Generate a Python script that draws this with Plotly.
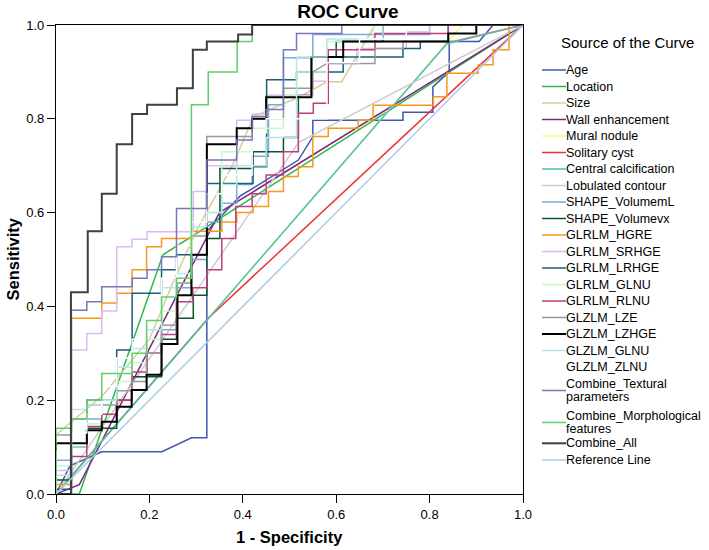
import plotly.graph_objects as go

# ---------------- data ----------------
CURVE_NAMES = ["Age", "Location", "Size", "Wall enhancement", "Mural nodule", "Solitary cyst",
               "Central calcification", "Lobulated contour", "SHAPE_VolumemL", "SHAPE_Volumevx",
               "GLRLM_HGRE", "GLRLM_SRHGE", "GLRLM_LRHGE", "GLRLM_GLNU", "GLRLM_RLNU",
               "GLZLM_LZE", "GLZLM_LZHGE", "GLZLM_GLNU", "GLZLM_ZLNU",
               "Combine_Textural parameters", "Combine_Morphological features", "Combine_All",
               "Reference Line"]

AGE_FPR = [0, 0.03, 0.098, 0.227, 0.29, 0.323, 0.323, 0.394, 0.519, 0.55, 0.55, 0.743, 0.743, 0.807, 0.807, 0.842, 0.842, 0.906, 0.936, 1]
AGE_TPR = [0, 0.06, 0.09, 0.09, 0.12, 0.12, 0.56, 0.635, 0.712, 0.762, 0.797, 0.797, 0.814, 0.814, 0.868, 0.9, 0.965, 0.965, 1, 1]

LOCATION_FPR = [0, 0.05, 0.229, 1]
LOCATION_TPR = [0, 0.0, 0.51, 1]

SIZE_FPR = [0, 0, 0.1, 0.2, 0.25, 0.3, 0.38, 0.423, 0.522, 0.58, 0.612, 0.683, 1]
SIZE_TPR = [0, 0.126, 0.21, 0.33, 0.45, 0.56, 0.705, 0.805, 0.847, 0.879, 0.879, 1, 1]

WALL_FPR = [0, 0.05, 0.35, 1]
WALL_TPR = [0, 0.02, 0.6, 1]

MURAL_FPR = [0, 0.87, 1]
MURAL_TPR = [0, 1, 1]

SOLITARY_FPR = [0, 0.327, 1]
SOLITARY_TPR = [0, 0.376, 1]

CENTRAL_FPR = [0, 0.837, 1]
CENTRAL_TPR = [0, 0.96, 1]

LOBULATED_FPR = [0, 0.52, 1]
LOBULATED_TPR = [0, 0.75, 1]

VOLML_FPR = [0, 0, 0.033, 0.033, 0.066, 0.066, 0.098, 0.098, 0.163, 0.163, 0.194, 0.194, 0.226, 0.226, 0.258, 0.258, 0.29, 0.29, 0.323, 0.323, 0.355, 0.355, 0.387, 0.387, 0.42, 0.42, 0.455, 0.455, 0.487, 0.487, 0.55, 0.55, 0.8, 0.8, 1]
VOLML_TPR = [0, 0.072, 0.072, 0.1, 0.1, 0.16, 0.16, 0.2, 0.2, 0.25, 0.25, 0.3, 0.3, 0.35, 0.35, 0.44, 0.44, 0.5, 0.5, 0.58, 0.58, 0.62, 0.62, 0.66, 0.66, 0.72, 0.72, 0.83, 0.83, 0.93, 0.93, 0.98, 0.98, 1, 1]

VOLVX_FPR = [0, 0, 0.033, 0.033, 0.066, 0.066, 0.13, 0.13, 0.163, 0.163, 0.226, 0.226, 0.258, 0.258, 0.294, 0.294, 0.323, 0.323, 0.351, 0.351, 0.422, 0.422, 0.487, 0.487, 0.519, 0.519, 0.547, 0.547, 0.6, 0.6, 0.7, 0.7, 1]
VOLVX_TPR = [0, 0.03, 0.03, 0.1, 0.1, 0.14, 0.14, 0.2, 0.2, 0.25, 0.25, 0.33, 0.33, 0.375, 0.375, 0.424, 0.424, 0.545, 0.545, 0.694, 0.694, 0.73, 0.73, 0.76, 0.76, 0.85, 0.85, 0.932, 0.932, 0.965, 0.965, 1, 1]

HGRE_FPR = [0, 0, 0.033, 0.033, 0.098, 0.098, 0.13, 0.13, 0.163, 0.163, 0.194, 0.194, 0.226, 0.226, 0.29, 0.29, 0.355, 0.355, 0.387, 0.387, 0.422, 0.422, 0.455, 0.455, 0.487, 0.487, 0.519, 0.519, 0.55, 0.55, 0.583, 0.583, 0.647, 0.647, 0.679, 0.679, 0.808, 0.808, 0.837, 0.837, 0.904, 0.904, 0.936, 0.936, 0.97, 0.97, 1]
HGRE_TPR = [0, 0.02, 0.02, 0.375, 0.375, 0.407, 0.407, 0.428, 0.428, 0.478, 0.478, 0.527, 0.527, 0.545, 0.545, 0.56, 0.56, 0.58, 0.58, 0.6, 0.6, 0.613, 0.613, 0.645, 0.645, 0.677, 0.677, 0.698, 0.698, 0.762, 0.762, 0.78, 0.78, 0.797, 0.797, 0.829, 0.829, 0.847, 0.847, 0.897, 0.897, 0.915, 0.915, 0.947, 0.947, 1, 1]

SRHGE_FPR = [0, 0, 0.033, 0.033, 0.066, 0.066, 0.098, 0.098, 0.13, 0.13, 0.163, 0.163, 0.195, 0.195, 0.294, 0.294, 0.323, 0.323, 0.387, 0.387, 0.42, 0.42, 0.45, 0.45, 0.55, 0.55, 0.58, 0.58, 0.644, 0.644, 0.75, 0.75, 0.8, 0.8, 1]
SRHGE_TPR = [0, 0.05, 0.05, 0.307, 0.307, 0.342, 0.342, 0.39, 0.39, 0.527, 0.527, 0.543, 0.543, 0.559, 0.559, 0.645, 0.645, 0.7, 0.7, 0.797, 0.797, 0.81, 0.81, 0.85, 0.85, 0.88, 0.88, 0.918, 0.918, 0.95, 0.95, 0.985, 0.985, 1, 1]

LRHGE_FPR = [0, 0, 0.033, 0.033, 0.066, 0.066, 0.13, 0.13, 0.163, 0.163, 0.226, 0.226, 0.258, 0.258, 0.323, 0.323, 0.422, 0.422, 0.451, 0.451, 0.515, 0.515, 0.615, 0.615, 0.743, 0.743, 0.78, 0.78, 0.84, 0.84, 1]
LRHGE_TPR = [0, 0.01, 0.01, 0.1, 0.1, 0.2, 0.2, 0.307, 0.307, 0.428, 0.428, 0.478, 0.478, 0.51, 0.51, 0.662, 0.662, 0.698, 0.698, 0.883, 0.883, 0.9, 0.9, 0.932, 0.932, 0.95, 0.95, 0.965, 0.965, 1, 1]

GLRLM_GLNU_FPR = [0, 0, 0.033, 0.033, 0.066, 0.066, 0.098, 0.098, 0.13, 0.13, 0.163, 0.163, 0.194, 0.194, 0.226, 0.226, 0.258, 0.258, 0.29, 0.29, 0.323, 0.323, 0.355, 0.355, 0.42, 0.42, 0.487, 0.487, 0.515, 0.515, 0.58, 0.58, 0.68, 0.68, 1]
GLRLM_GLNU_TPR = [0, 0.06, 0.06, 0.1, 0.1, 0.15, 0.15, 0.2, 0.2, 0.24, 0.24, 0.28, 0.28, 0.33, 0.33, 0.39, 0.39, 0.45, 0.45, 0.55, 0.55, 0.6, 0.6, 0.73, 0.73, 0.78, 0.78, 0.85, 0.85, 0.9, 0.9, 0.965, 0.965, 1, 1]

RLNU_FPR = [0, 0.033, 0.033, 0.066, 0.066, 0.098, 0.098, 0.13, 0.13, 0.163, 0.163, 0.195, 0.195, 0.226, 0.226, 0.258, 0.258, 0.293, 0.293, 0.323, 0.323, 0.355, 0.355, 0.385, 0.385, 0.42, 0.42, 0.45, 0.45, 0.487, 0.487, 0.519, 0.519, 0.551, 0.551, 0.583, 0.583, 0.683, 0.683, 0.84, 0.84, 1]
RLNU_TPR = [0, 0, 0.08, 0.08, 0.144, 0.144, 0.17, 0.17, 0.2, 0.2, 0.26, 0.26, 0.3, 0.3, 0.34, 0.34, 0.41, 0.41, 0.44, 0.44, 0.478, 0.478, 0.545, 0.545, 0.613, 0.613, 0.64, 0.64, 0.68, 0.68, 0.73, 0.73, 0.812, 0.812, 0.833, 0.833, 0.947, 0.947, 0.982, 0.982, 1, 1]

LZE_FPR = [0, 0, 0.033, 0.033, 0.066, 0.066, 0.13, 0.13, 0.163, 0.163, 0.194, 0.194, 0.226, 0.226, 0.26, 0.26, 0.29, 0.29, 0.323, 0.323, 0.42, 0.42, 0.487, 0.487, 0.55, 0.55, 0.58, 0.683, 0.683, 0.743, 0.743, 0.85, 1]
LZE_TPR = [0, 0.126, 0.126, 0.16, 0.16, 0.19, 0.19, 0.22, 0.22, 0.24, 0.24, 0.3, 0.3, 0.36, 0.36, 0.45, 0.45, 0.55, 0.55, 0.762, 0.762, 0.8, 0.8, 0.865, 0.865, 0.9, 0.918, 0.918, 0.95, 0.95, 0.965, 0.965, 1]

LZHGE_FPR = [0, 0, 0.066, 0.066, 0.098, 0.098, 0.13, 0.13, 0.162, 0.162, 0.194, 0.194, 0.226, 0.226, 0.26, 0.26, 0.29, 0.29, 0.323, 0.323, 0.387, 0.387, 0.42, 0.42, 0.45, 0.45, 0.547, 0.547, 0.615, 0.615, 0.84, 0.84, 0.9, 0.9, 1]
LZHGE_TPR = [0, 0.108, 0.108, 0.136, 0.136, 0.154, 0.154, 0.186, 0.186, 0.222, 0.222, 0.254, 0.254, 0.32, 0.32, 0.424, 0.424, 0.51, 0.51, 0.746, 0.746, 0.78, 0.78, 0.8, 0.8, 0.846, 0.846, 0.932, 0.932, 0.965, 0.965, 0.982, 0.982, 1, 1]

GLZLM_GLNU_FPR = [0, 0, 0.033, 0.033, 0.066, 0.066, 0.098, 0.098, 0.13, 0.13, 0.163, 0.163, 0.194, 0.194, 0.226, 0.226, 0.258, 0.258, 0.29, 0.29, 0.323, 0.323, 0.355, 0.355, 0.387, 0.387, 0.45, 0.45, 0.515, 0.515, 0.58, 0.58, 0.7, 0.7, 1]
GLZLM_GLNU_TPR = [0, 0.04, 0.04, 0.18, 0.18, 0.19, 0.19, 0.2, 0.2, 0.27, 0.27, 0.31, 0.31, 0.35, 0.35, 0.44, 0.44, 0.47, 0.47, 0.57, 0.57, 0.6, 0.6, 0.66, 0.66, 0.7, 0.7, 0.76, 0.76, 0.932, 0.932, 0.97, 0.97, 1, 1]

ZLNU_FPR = [0, 0, 0.033, 0.033, 0.066, 0.066, 0.098, 0.098, 0.13, 0.13, 0.163, 0.163, 0.194, 0.194, 0.226, 0.226, 0.258, 0.258, 0.29, 0.29, 0.323, 0.323, 0.355, 0.355, 0.42, 0.42, 0.45, 0.45, 0.58, 0.58, 0.65, 0.65, 0.75, 0.75, 1]
ZLNU_TPR = [0, 0.09, 0.09, 0.13, 0.13, 0.17, 0.17, 0.23, 0.23, 0.29, 0.29, 0.33, 0.33, 0.4, 0.4, 0.46, 0.46, 0.53, 0.53, 0.58, 0.58, 0.64, 0.64, 0.68, 0.68, 0.77, 0.77, 0.8, 0.8, 0.92, 0.92, 0.97, 0.97, 1, 1]

TEXTURAL_FPR = [0, 0.033, 0.033, 0.066, 0.066, 0.098, 0.098, 0.163, 0.163, 0.195, 0.195, 0.226, 0.226, 0.258, 0.258, 0.323, 0.323, 0.387, 0.387, 0.42, 0.42, 0.45, 0.45, 0.487, 0.487, 0.515, 0.515, 0.612, 0.612, 1]
TEXTURAL_TPR = [0, 0, 0.392, 0.392, 0.41, 0.41, 0.442, 0.442, 0.46, 0.46, 0.478, 0.478, 0.506, 0.506, 0.609, 0.609, 0.712, 0.712, 0.755, 0.755, 0.805, 0.805, 0.82, 0.82, 0.947, 0.947, 0.982, 0.982, 1, 1]

MORPH_FPR = [0, 0, 0.033, 0.033, 0.066, 0.066, 0.098, 0.098, 0.163, 0.163, 0.194, 0.194, 0.226, 0.226, 0.258, 0.258, 0.29, 0.29, 0.326, 0.326, 0.388, 0.388, 0.42, 0.42, 1]
MORPH_TPR = [0, 0.14, 0.14, 0.16, 0.16, 0.2, 0.2, 0.257, 0.257, 0.3, 0.3, 0.37, 0.37, 0.42, 0.42, 0.46, 0.46, 0.83, 0.83, 0.9, 0.9, 0.965, 0.965, 1, 1]

ALL_FPR = [0, 0.032, 0.032, 0.068, 0.068, 0.098, 0.098, 0.13, 0.13, 0.163, 0.163, 0.195, 0.195, 0.259, 0.259, 0.293, 0.293, 0.323, 0.323, 0.39, 0.39, 0.42, 0.42, 1]
ALL_TPR = [0, 0, 0.43, 0.43, 0.56, 0.56, 0.64, 0.64, 0.746, 0.746, 0.81, 0.81, 0.83, 0.83, 0.865, 0.865, 0.947, 0.947, 0.965, 0.965, 0.98, 0.98, 1, 1]

REF_FPR = [0, 1]
REF_TPR = [0, 1]

AXIS_TICKS = [0.0, 0.2, 0.4, 0.6, 0.8, 1.0]

# ---------------- styling ----------------
COLORS = ["#3E58AC", "#2EB848", "#D3CE97", "#7C287D", "#FBF873", "#EF3338",
          "#48C2B4", "#CCCCCC", "#7AAAD5", "#0A562C", "#F8981D", "#DDBAF1",
          "#1A5F76", "#C8F8C8", "#BB3F7F", "#999999", "#000000", "#B6E7E8",
          "#FFFFFF", "#7777B7", "#5FCF6A", "#3F3F3F", "#A9CBEB"]
WIDTHS = [1.5] * 23
WIDTHS[16] = 2.0
WIDTHS[21] = 2.0

SERIES = [(AGE_FPR, AGE_TPR), (LOCATION_FPR, LOCATION_TPR), (SIZE_FPR, SIZE_TPR),
          (WALL_FPR, WALL_TPR), (MURAL_FPR, MURAL_TPR), (SOLITARY_FPR, SOLITARY_TPR),
          (CENTRAL_FPR, CENTRAL_TPR), (LOBULATED_FPR, LOBULATED_TPR), (VOLML_FPR, VOLML_TPR),
          (VOLVX_FPR, VOLVX_TPR), (HGRE_FPR, HGRE_TPR), (SRHGE_FPR, SRHGE_TPR),
          (LRHGE_FPR, LRHGE_TPR), (GLRLM_GLNU_FPR, GLRLM_GLNU_TPR), (RLNU_FPR, RLNU_TPR),
          (LZE_FPR, LZE_TPR), (LZHGE_FPR, LZHGE_TPR), (GLZLM_GLNU_FPR, GLZLM_GLNU_TPR),
          (ZLNU_FPR, ZLNU_TPR), (TEXTURAL_FPR, TEXTURAL_TPR), (MORPH_FPR, MORPH_TPR),
          (ALL_FPR, ALL_TPR), (REF_FPR, REF_TPR)]

FONT = "Liberation Sans, Arial, sans-serif"
W, H = 709, 550
# plot area in the reference screenshot: x 56..523, y 25..494
ML, MT = 56, 25
PW, PH = 467, 469
MR, MB = W - ML - PW, H - MT - PH


def px(x):
    """screen x (pixels) -> paper x"""
    return (x - ML) / PW


def py(y):
    """screen y (pixels) -> paper y"""
    return (MT + PH - y) / PH


fig = go.Figure()
for name, (fx, ty), col, wd in zip(CURVE_NAMES, SERIES, COLORS, WIDTHS):
    fig.add_trace(go.Scatter(x=fx, y=ty, mode="lines", name=name,
                             line=dict(color=col, width=wd), showlegend=False))

# ---- custom legend (to match the compact SPSS legend) ----
LEG_ROWS = [("Age", 70), ("Location", 86.5), ("Size", 103), ("Wall enhancement", 119.5),
            ("Mural nodule", 136), ("Solitary cyst", 152.5), ("Central calcification", 169),
            ("Lobulated contour", 185.5), ("SHAPE_VolumemL", 202), ("SHAPE_Volumevx", 218.5),
            ("GLRLM_HGRE", 235), ("GLRLM_SRHGE", 251.5), ("GLRLM_LRHGE", 268),
            ("GLRLM_GLNU", 284.5), ("GLRLM_RLNU", 301), ("GLZLM_LZE", 317.5),
            ("GLZLM_LZHGE", 334), ("GLZLM_GLNU", 350.5), ("GLZLM_ZLNU", 367),
            ("Combine_Textural|parameters", 390.5), ("Combine_Morphological|features", 422.5),
            ("Combine_All", 443.3), ("Reference Line", 460)]

shapes = []
annotations = []
for (label, yc), col, wd in zip(LEG_ROWS, COLORS, WIDTHS):
    shapes.append(dict(type="line", xref="paper", yref="paper",
                       x0=px(542), x1=px(566), y0=py(yc), y1=py(yc),
                       line=dict(color=col, width=wd)))
    parts = label.split("|")
    offs = [0] if len(parts) == 1 else [-6.7, 6.7]
    for part, o in zip(parts, offs):
        annotations.append(dict(text=part, xref="paper", yref="paper",
                                x=px(564), y=py(yc + o), xanchor="left", yanchor="middle",
                                showarrow=False,
                                font=dict(family=FONT, size=12.5, color="#000000")))

annotations.append(dict(text="Source of the Curve", xref="paper", yref="paper",
                        x=px(627.5), y=py(43), xanchor="center", yanchor="middle",
                        showarrow=False, font=dict(family=FONT, size=15, color="#000000")))
annotations.append(dict(text="1 - Specificity", xref="paper", yref="paper",
                        x=px(289.5), y=py(537), xanchor="center", yanchor="middle",
                        showarrow=False,
                        font=dict(family=FONT, size=16.5, color="#000000", weight="bold")))
annotations.append(dict(text="Sensitivity", xref="paper", yref="paper", textangle=-90,
                        x=px(12), y=py(259.5), xanchor="center", yanchor="middle",
                        showarrow=False,
                        font=dict(family=FONT, size=16.5, color="#000000", weight="bold")))

axis_common = dict(range=[0, 1], tickvals=AXIS_TICKS, tickformat=".1f",
                   showgrid=False, zeroline=False, showline=True, linecolor="#000000",
                   linewidth=1.3, mirror=True, ticks="outside", ticklen=8, tickwidth=1.3,
                   tickcolor="#000000", tickfont=dict(family=FONT, size=13, color="#000000"),
                   fixedrange=True)

fig.update_layout(
    width=W, height=H,
    margin=dict(l=ML, r=MR, t=MT, b=MB, pad=0),
    paper_bgcolor="#FFFFFF", plot_bgcolor="#FFFFFF",
    title=dict(text="ROC Curve", x=348 / W, xanchor="center", xref="container",
               y=1 - 11 / H, yanchor="middle", yref="container",
               font=dict(family=FONT, size=19, color="#000000", weight="bold")),
    xaxis=axis_common, yaxis=axis_common,
    shapes=shapes, annotations=annotations,
    showlegend=False,
)

# the page's default body margin would shift the chart by 8px; remove it
fig.write_html("out.html",
               config={"displayModeBar": False},
               post_script="document.body.style.margin='0px';"
                           "document.body.style.overflow='hidden';")
